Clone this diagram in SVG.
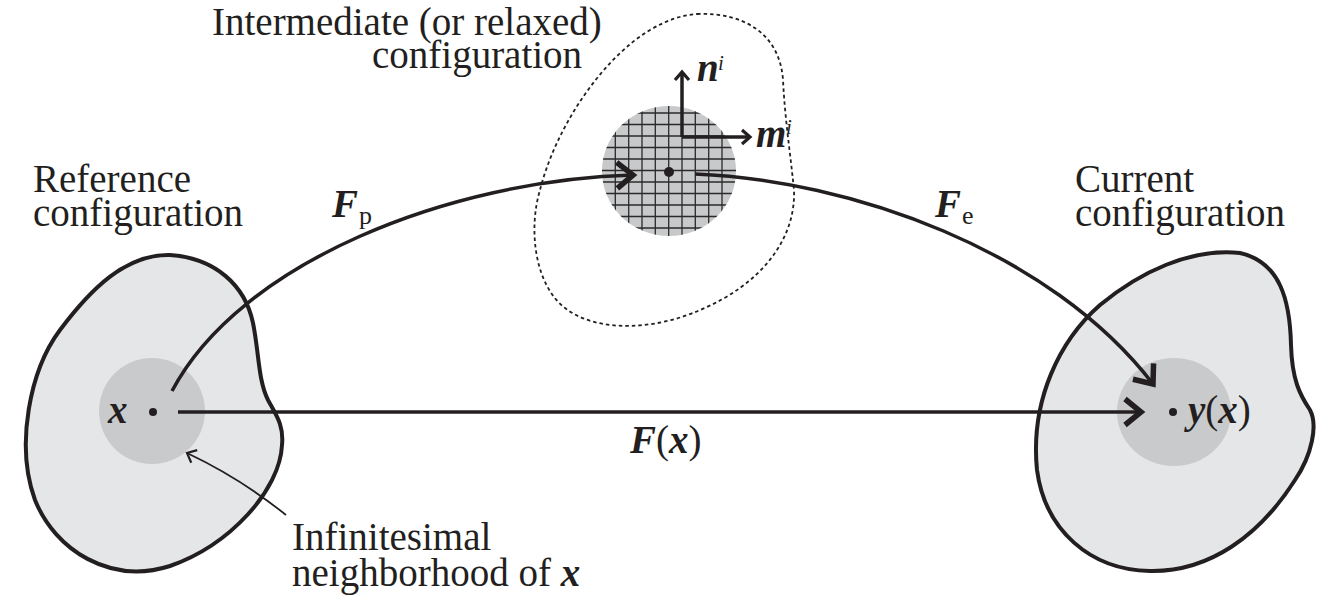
<svg xmlns="http://www.w3.org/2000/svg" width="1326" height="601" viewBox="0 0 1326 601">
<defs>
<style>
.lbl{font-family:"Liberation Serif","Times New Roman",serif;font-size:39px;fill:#231f20}
.bi{font-weight:bold;font-style:italic}
.sub{font-size:26px}
.sup{font-size:21px;font-style:italic}
.blob{fill:#e5e6e8;stroke:#231f20;stroke-width:4}
.nb{fill:#c9cacc}
.conn{fill:none;stroke:#231f20;stroke-width:3.5}
.grid line{stroke:#2a2a2a;stroke-width:1.3}
</style>
<marker id="chev" markerUnits="userSpaceOnUse" viewBox="-24 -20 30 40" markerWidth="30" markerHeight="40" refX="0" refY="0" orient="auto">
<path d="M-16,-13 L0,0 L-16,13" fill="none" stroke="#231f20" stroke-width="5.5"/>
</marker>
<marker id="small" markerUnits="userSpaceOnUse" viewBox="-14 -12 20 24" markerWidth="20" markerHeight="24" refX="0" refY="0" orient="auto">
<path d="M-8,-7 L0,0 L-8,7" fill="none" stroke="#231f20" stroke-width="3.2"/>
</marker>
<marker id="tiny" markerUnits="userSpaceOnUse" viewBox="-14 -12 20 24" markerWidth="20" markerHeight="24" refX="0" refY="0" orient="auto">
<path d="M-8,-7 L0,0 L-8,7" fill="none" stroke="#231f20" stroke-width="2.2"/>
</marker>
<clipPath id="gclip"><ellipse cx="669" cy="171" rx="67" ry="65"/></clipPath>
</defs>
<rect width="1326" height="601" fill="#fff"/>

<g id="intermediate">
<path d="M697,14 C745,12 780,35 783,80 C785,120 790,150 794,190 C796,240 760,285 700,310 C660,328 600,335 565,308 C535,285 528,230 540,190 C555,130 600,60 650,30 C667,20 682,15 697,14 Z" fill="none" stroke="#231f20" stroke-width="1.8" stroke-dasharray="3.5 3"/>
<ellipse cx="669" cy="171" rx="67" ry="65" fill="#c8c9cb"/>
<g class="grid" clip-path="url(#gclip)">
<line x1="615.3" y1="100" x2="615.3" y2="240"/><line x1="628.7" y1="100" x2="628.7" y2="240"/><line x1="642" y1="100" x2="642" y2="240"/><line x1="655.3" y1="100" x2="655.3" y2="240"/><line x1="668.7" y1="100" x2="668.7" y2="240"/><line x1="682" y1="100" x2="682" y2="240"/><line x1="695.3" y1="100" x2="695.3" y2="240"/><line x1="708.7" y1="100" x2="708.7" y2="240"/><line x1="722" y1="100" x2="722" y2="240"/>
<line x1="600" y1="113" x2="740" y2="113"/><line x1="600" y1="124.5" x2="740" y2="124.5"/><line x1="600" y1="136" x2="740" y2="136"/><line x1="600" y1="147.5" x2="740" y2="147.5"/><line x1="600" y1="159" x2="740" y2="159"/><line x1="600" y1="170.5" x2="740" y2="170.5"/><line x1="600" y1="182" x2="740" y2="182"/><line x1="600" y1="193.5" x2="740" y2="193.5"/><line x1="600" y1="205" x2="740" y2="205"/><line x1="600" y1="216.5" x2="740" y2="216.5"/><line x1="600" y1="228" x2="740" y2="228"/>
</g>
<circle cx="669" cy="172" r="5" fill="#231f20"/>
<path d="M682,137 L682,72" class="conn" marker-end="url(#small)"/>
<path d="M682,137 L750,137" class="conn" marker-end="url(#small)"/>
<text class="lbl bi" x="697" y="81" font-size="36">n</text>
<text class="lbl sup" x="718" y="70">i</text>
<text class="lbl bi" x="756" y="147" font-size="36">m</text>
<text class="lbl sup" x="786" y="134">i</text>
<text class="lbl" x="212" y="35">Intermediate (or relaxed)</text>
<text class="lbl" x="372" y="68">configuration</text>
</g>

<g id="reference">
<path class="blob" d="M170,255 C215,258 245,285 253,323 C259,352 258,380 268,400 C276,415 284,425 282,445 C280,490 230,545 170,566 C110,585 55,550 35,500 C15,445 30,370 60,330 C90,290 125,254 170,255 Z"/>
<circle class="nb" cx="152" cy="411" r="53"/>
<circle cx="153" cy="412" r="4" fill="#231f20"/>
<text class="lbl bi" x="108" y="423">x</text>
<text class="lbl" x="33" y="192">Reference</text>
<text class="lbl" x="33" y="226">configuration</text>
</g>

<g id="current">
<path class="blob" d="M1240,253 C1280,262 1290,300 1291,345 C1292,380 1300,395 1310,410 C1318,425 1312,455 1295,480 C1260,535 1210,572 1150,571 C1090,570 1045,530 1037,470 C1030,400 1060,340 1100,305 C1140,272 1190,248 1240,253 Z"/>
<ellipse class="nb" cx="1174" cy="412" rx="57" ry="54"/>
<circle cx="1173" cy="412" r="4" fill="#231f20"/>
<text class="lbl" x="1188" y="423"><tspan class="bi">y</tspan>(<tspan class="bi">x</tspan>)</text>
<text class="lbl" x="1075" y="192">Current</text>
<text class="lbl" x="1075" y="226">configuration</text>
</g>

<g id="annotation">
<text class="lbl" x="292" y="550">Infinitesimal</text>
<text class="lbl" x="292" y="586">neighborhood of <tspan class="bi">x</tspan></text>
</g>

<g id="connectors">
<path class="conn" d="M172,391 C240,262 450,180 633,175" marker-end="url(#chev)"/>
<path class="conn" d="M695,174 C850,180 1050,250 1153,384" marker-end="url(#chev)"/>
<path class="conn" d="M178,412 L1141,412" marker-end="url(#chev)"/>
<path d="M286,515 Q240,478 187,453" fill="none" stroke="#231f20" stroke-width="1.8" marker-end="url(#tiny)"/>
<text class="lbl bi" x="332" y="217">F</text><text class="lbl sub" x="359" y="224">p</text>
<text class="lbl bi" x="935" y="217">F</text><text class="lbl sub" x="962" y="224">e</text>
<text class="lbl" x="630" y="453"><tspan class="bi">F</tspan>(<tspan class="bi">x</tspan>)</text>
</g>
</svg>
